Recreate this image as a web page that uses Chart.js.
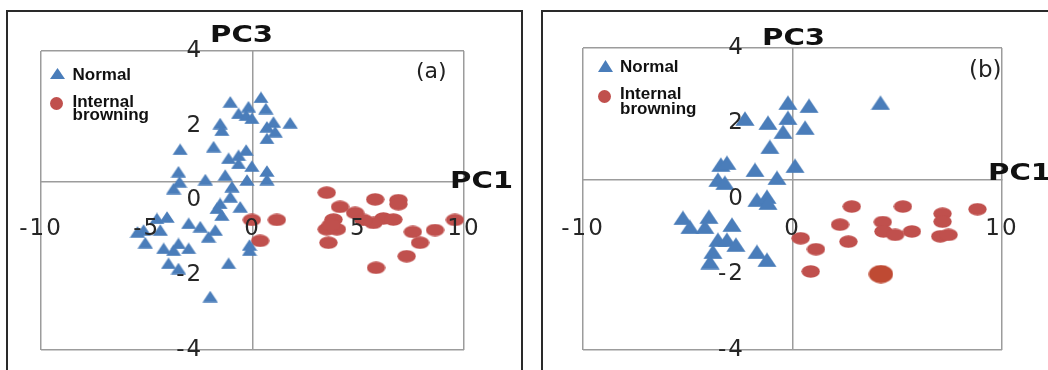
<!DOCTYPE html>
<html lang="en">
<head>
<meta charset="UTF-8" />
<title>PCA score plots: Normal vs Internal browning</title>
<script src="https://cdn.jsdelivr.net/npm/chart.js"></script>
<style>
  body { margin: 0; width: 1048px; height: 370px; overflow: hidden; background: #fff; position: relative; font-family: 'Liberation Sans', Arial, sans-serif; }
  .frame { position: absolute; top: 10px; height: 420px; border: 2px solid #2a2a2a; box-sizing: border-box; }
  canvas { position: absolute; top: 0; }
  .lbl { position: absolute; white-space: nowrap; color: #111; }
  .axt { font-family: 'DejaVu Sans'; font-weight: bold; font-size: 23px; line-height: 23px; transform: scaleX(1.27); transform-origin: 0 0; }
  .tag { font-family: 'DejaVu Sans'; font-size: 22px; line-height: 22px; color: #222; }
  .leg { font-weight: bold; font-size: 17px; line-height: 17px; }
  svg { position: absolute; }
</style>
</head>
<body>
  <div class="frame" style="left:6px; width:517px;"></div>
  <div class="frame" style="left:541px; width:600px;"></div>

  <canvas id="pcaA" width="530" height="370" style="left:0"></canvas>
  <canvas id="pcaB" width="518" height="370" style="left:530px"></canvas>

  <!-- panel (a) texts -->
  <div class="lbl axt" style="left:210px; top:22.5px;">PC3</div>
  <div class="lbl axt" style="left:450px; top:168.5px;">PC1</div>
  <div class="lbl tag" style="left:416px; top:60.4px;">(a)</div>
  <svg style="left:50px; top:68px;" width="15" height="11"><polygon points="7.5,0 15,11 0,11" fill="#4a7dba"/></svg>
  <div class="lbl leg" style="left:72.5px; top:65.6px;">Normal</div>
  <svg style="left:50px; top:97px;" width="13" height="13"><circle cx="6.5" cy="6.5" r="6.5" fill="#c0504d"/></svg>
  <div class="lbl leg" style="left:72.5px; top:94.7px; line-height:13.4px;">Internal<br>browning</div>

  <!-- panel (b) texts -->
  <div class="lbl axt" style="left:762px; top:25.5px;">PC3</div>
  <div class="lbl axt" style="left:988px; top:160.5px;">PC1</div>
  <div class="lbl tag" style="left:969px; top:57.5px; font-size:23px; line-height:23px;">(b)</div>
  <svg style="left:597.5px; top:60px;" width="15" height="12"><polygon points="7.5,0 15,12 0,12" fill="#4a7dba"/></svg>
  <div class="lbl leg" style="left:620px; top:57.6px;">Normal</div>
  <svg style="left:597.5px; top:89.5px;" width="13" height="13"><circle cx="6.5" cy="6.5" r="6.5" fill="#c0504d"/></svg>
  <div class="lbl leg" style="left:620px; top:85.5px; line-height:15.7px;">Internal<br>browning</div>

  <script>
    // PC1 / PC3 scores
    const normalA = [
      [-1.05, 2.64], [0.40, 2.76], [-0.19, 2.51], [0.63, 2.46], [-0.66, 2.33], [-0.30, 2.28],
      [-0.03, 2.20], [-1.53, 2.06], [-1.45, 1.88], [0.99, 2.10], [1.78, 2.08], [0.68, 1.97],
      [1.07, 1.84], [0.68, 1.66], [-3.42, 1.37], [-1.84, 1.44], [-0.30, 1.35], [-0.66, 1.21],
      [-1.13, 1.13], [-0.66, 0.99], [-0.03, 0.92], [0.68, 0.79], [-3.50, 0.77], [-1.29, 0.68],
      [-2.23, 0.56], [-0.26, 0.55], [0.68, 0.56], [-3.45, 0.50], [-3.73, 0.32], [-0.97, 0.37],
      [-1.05, 0.10], [-1.53, -0.08], [-1.68, -0.21], [-0.58, -0.17], [-1.45, -0.39], [-4.52, -0.48],
      [-4.04, -0.44], [-5.15, -0.79], [-4.36, -0.79], [-3.02, -0.61], [-2.47, -0.70], [-1.76, -0.79],
      [-2.08, -0.97], [-5.07, -1.13], [-4.20, -1.28], [-3.50, -1.15], [-3.02, -1.28], [-3.73, -1.33],
      [-0.14, -1.19], [-0.14, -1.33], [-3.97, -1.68], [-3.50, -1.82], [-1.13, -1.68], [-2.00, -2.57],
      [-5.44, -0.84]
    ];
    const browningA = [
      [3.51, 0.21], [5.80, 0.03], [6.90, 0.01], [6.90, -0.10], [4.14, -0.17], [4.85, -0.33],
      [3.83, -0.51], [1.15, -0.52], [-0.03, -0.52], [6.19, -0.48], [6.66, -0.51], [5.72, -0.60],
      [5.24, -0.52], [3.51, -0.77], [3.99, -0.77], [7.58, -0.84], [8.63, -0.79], [9.57, -0.52],
      [7.92, -1.13], [3.59, -1.13], [0.36, -1.08], [7.29, -1.49], [5.84, -1.80], [3.70, -0.65]
    ];
    const normalB = [
      [-0.22, 2.55], [0.79, 2.47], [4.20, 2.55], [-2.27, 2.13], [-1.17, 2.02], [-0.22, 2.15],
      [-0.45, 1.78], [0.60, 1.89], [-1.08, 1.38], [-3.42, 0.91], [-3.13, 0.96], [-1.79, 0.77],
      [0.12, 0.88], [-0.74, 0.56], [-3.56, 0.51], [-3.23, 0.43], [-1.70, -0.02], [-1.22, 0.06],
      [-1.17, -0.10], [-5.23, -0.50], [-4.90, -0.74], [-3.99, -0.47], [-4.18, -0.74], [-2.89, -0.68],
      [-3.56, -1.08], [-3.13, -1.08], [-2.70, -1.21], [-3.80, -1.40], [-1.70, -1.40], [-1.22, -1.61],
      [-3.94, -1.67]
    ];
    const browningB = [
      [2.83, -0.20], [5.27, -0.20], [8.83, -0.27], [7.16, -0.39], [7.16, -0.60], [2.27, -0.68],
      [4.31, -0.61], [4.34, -0.86], [4.90, -0.95], [5.70, -0.86], [7.05, -0.99], [7.45, -0.95],
      [0.39, -1.04], [2.67, -1.13], [1.12, -1.33], [0.87, -1.92]
    ];
    // several samples stacked on one spot in panel (b)
    const browningBStack = [[4.22, -1.99]];

    const xTicksA = [-10, -5, 0, 5, 10];
    const xTicksB = [-10, 0, 10];
    const yTicks = [-4, -2, 0, 2, 4];

    const BLUE = '#4a7dba';
    const RED = '#c0504d';
    const LINE = '#9c9c9c';
    const TICK_FONT = { family: 'DejaVu Sans', size: 23 };

    function triangle(w, h, color) {
      const c = document.createElement('canvas');
      c.width = w; c.height = h;
      const g = c.getContext('2d');
      g.fillStyle = color;
      g.beginPath();
      g.moveTo(w / 2, 0.3); g.lineTo(w - 0.3, h - 0.3); g.lineTo(0.3, h - 0.3);
      g.closePath(); g.fill();
      return c;
    }
    function ellipse(w, h, color) {
      const c = document.createElement('canvas');
      c.width = w; c.height = h;
      const g = c.getContext('2d');
      g.fillStyle = color;
      g.beginPath();
      g.ellipse(w / 2, h / 2, w / 2 - 0.3, h / 2 - 0.3, 0, 0, Math.PI * 2);
      g.fill();
      return c;
    }

    const toXY = arr => arr.map(p => ({ x: p[0], y: p[1] }));

    // tick labels in the original are set wide
    const spacedTicks = {
      id: 'spacedTicks',
      afterDatasetsDraw(chart) { chart.ctx.letterSpacing = '2px'; },
      afterDraw(chart) { chart.ctx.letterSpacing = '0px'; }
    };

    function panel(id, o) {
      const datasets = [
        { label: 'Normal', data: toXY(o.normal), pointStyle: o.tri, pointRadius: 8 },
        { label: 'Internal browning', data: toXY(o.browning), pointStyle: o.dot, pointRadius: 8 }
      ];
      if (o.stack) {
        datasets.push({ label: 'Internal browning', data: toXY(o.stack), pointStyle: ellipse(25, 19, '#bf4a33'), pointRadius: 10 });
      }
      return new Chart(document.getElementById(id), {
        type: 'scatter',
        data: { datasets },
        options: {
          responsive: false,
          animation: false,
          events: [],
          layout: { padding: o.pad },
          plugins: { legend: { display: false }, tooltip: { enabled: false } },
          scales: {
            x: {
              type: 'linear', min: -10, max: 10,
              position: { y: o.crossY },
              afterBuildTicks: s => { s.ticks = o.xTicks.map(v => ({ value: v })); },
              // labels sit inside the frame, so they should not push the plot area
              afterFit: s => { s.paddingLeft = 0; s.paddingRight = 0; },
              grid: {
                drawTicks: false, lineWidth: 1.5,
                color: c => (c.tick && (c.tick.value === 0 || Math.abs(c.tick.value) === 10)) ? LINE : 'rgba(0,0,0,0)'
              },
              border: { display: true, color: LINE, width: 1.5 },
              ticks: { z: 1, padding: o.xPad, font: TICK_FONT, color: '#262626', maxRotation: 0, autoSkip: false }
            },
            y: {
              type: 'linear', min: -4, max: 4,
              position: { x: o.labelX },
              afterBuildTicks: s => { s.ticks = yTicks.map(v => ({ value: v })); },
              grid: {
                drawTicks: false, lineWidth: 1.5,
                color: c => (c.tick && Math.abs(c.tick.value) === 4) ? LINE : 'rgba(0,0,0,0)'
              },
              border: { display: false },
              ticks: { z: 1, font: TICK_FONT, color: '#262626', autoSkip: false }
            }
          }
        },
        plugins: [spacedTicks]
      });
    }

    panel('pcaA', {
      normal: normalA, browning: browningA,
      tri: triangle(16, 12, BLUE), dot: ellipse(19, 13, RED),
      xTicks: xTicksA, crossY: 0.49, labelX: -2.33, xPad: 33,
      pad: { left: 41, top: 51, right: 66, bottom: 20 }
    });
    panel('pcaB', {
      normal: normalB, browning: browningB, stack: browningBStack,
      tri: triangle(20, 15, BLUE), dot: ellipse(19, 13, RED),
      xTicks: xTicksB, crossY: 0.51, labelX: -2.27, xPad: 35.5,
      pad: { left: 53, top: 48, right: 46, bottom: 20 }
    });
  </script>
</body>
</html>
